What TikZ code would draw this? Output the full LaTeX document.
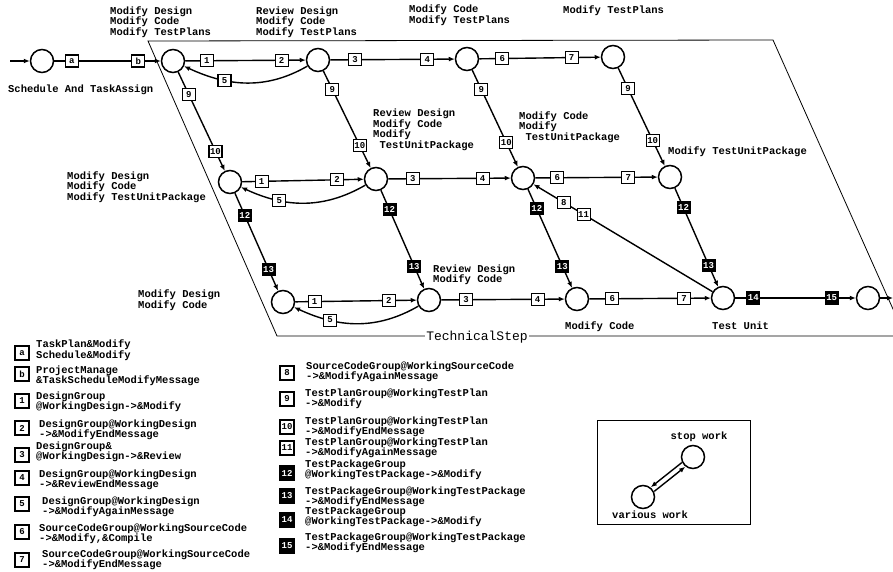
\documentclass[tikz,border=0pt]{standalone}
\usepackage{fontspec}
\newfontfamily\cour{Liberation Mono}
\usetikzlibrary{arrows.meta,calc}
\begin{document}
\begin{tikzpicture}[x=1pt,y=-1pt,
  every node/.style={font=\cour\bfseries\fontsize{10.5}{10.5}\selectfont},
  st/.style={circle,draw,line width=1.5pt,minimum size=23pt,inner sep=0pt},
  lbl/.style={draw,fill=white,line width=1.1pt,minimum width=13pt,minimum height=12pt,inner sep=0.8pt,font=\cour\bfseries\fontsize{9}{9}\selectfont},
  lblk/.style={lbl,fill=black,text=white},
  conn/.style={line width=1.4pt,-{Latex[length=6pt,width=5pt]}},
  txt/.style={anchor=west,inner sep=0pt,align=left},
  leg/.style={lbl,minimum width=14pt,minimum height=14pt,line width=1.4pt},
  legk/.style={leg,fill=black,text=white},
]
\useasboundingbox (0,0) rectangle (893,572);

% frame
\coordinate (P1) at (148,41);
\coordinate (P2) at (773,40);
\coordinate (P3) at (905,336);
\coordinate (P4) at (277,336);
\draw[line width=0.8pt] (P4) -- (P1) -- (P2) -- (P3) -- cycle;
\node[fill=white,inner sep=1.5pt,font=\cour\fontsize{13}{13}\selectfont] (tech) at (477,337) {TechnicalStep};

% states
\coordinate (in0) at (10,61);
\node[st] (S) at (42,61) {};
\node[st] (A1) at (173,61) {};
\node[st] (A2) at (318,60) {};
\node[st] (A3) at (467,59) {};
\node[st] (A4) at (613,57) {};
\node[st] (B1) at (230,182) {};
\node[st] (B2) at (376,179) {};
\node[st] (B3) at (523,178) {};
\node[st] (B4) at (670,177) {};
\node[st] (C1) at (283,302) {};
\node[st] (C2) at (429,300) {};
\node[st] (C3) at (577,299) {};
\node[st] (T) at (723,298) {};
\node[st] (E) at (868,298) {};
\coordinate (out0) at (893,298);

% row 1
\draw[conn] (in0) -- (S);
\draw[conn] (S) -- node[lbl,pos=0.165] (la) {a} node[lbl,pos=0.79] (lb) {b} (A1);
\draw[conn] (A1) -- node[lbl,pos=0.18] (a1) {1} node[lbl,pos=0.80] (a2) {2} (A2);
\draw[conn] (A2) to[out=210,in=335] node[lbl,pos=0.68] (a5) {5} (A1);
\draw[conn] (A2) -- node[lbl,pos=0.2] (a3) {3} node[lbl,pos=0.78] (a4) {4} (A3);
\draw[conn] (A3) -- node[lbl,pos=0.19] (a6) {6} node[lbl,pos=0.76] (a7) {7} (A4);
% row1 -> row2
\draw[conn] (A1) -- node[lbl,pos=0.23] (v19) {9} node[lbl,pos=0.80] (v110) {10} (B1);
\draw[conn] (A2) -- node[lbl,pos=0.19] (v29) {9} node[lbl,pos=0.77] (v210) {10} (B2);
\draw[conn] (A3) -- node[lbl,pos=0.20] (v39) {9} node[lbl,pos=0.75] (v310) {10} (B3);
\draw[conn] (A4) -- node[lbl,pos=0.21] (v49) {9} node[lbl,pos=0.74] (v410) {10} (B4);
% row 2
\draw[conn] (B1) -- node[lbl,pos=0.16] (b1) {1} node[lbl,pos=0.78] (b2) {2} (B2);
\draw[conn] (B2) to[out=210,in=335] node[lbl,pos=0.70] (b5) {5} (B1);
\draw[conn] (B2) -- node[lbl,pos=0.2] (b3) {3} node[lbl,pos=0.77] (b4) {4} (B3);
\draw[conn] (B3) -- node[lbl,pos=0.18] (b6) {6} node[lbl,pos=0.76] (b7) {7} (B4);
% row2 -> row3
\draw[conn] (B1) -- node[lblk,pos=0.23] (w112) {12} node[lblk,pos=0.78] (w113) {13} (C1);
\draw[conn] (B2) -- node[lblk,pos=0.20] (w212) {12} node[lblk,pos=0.77] (w213) {13} (C2);
\draw[conn] (B3) -- node[lblk,pos=0.20] (w312) {12} node[lblk,pos=0.78] (w313) {13} (C3);
\draw[conn] (B4) -- node[lblk,pos=0.20] (w412) {12} node[lblk,pos=0.78] (w413) {13} (T);
\draw[conn] (T) -- node[lbl,pos=0.72] (x11) {11} node[lbl,pos=0.83] (x8) {8} (B3);
% row 3
\draw[conn] (C1) -- node[lbl,pos=0.16] (c1) {1} node[lbl,pos=0.77] (c2) {2} (C2);
\draw[conn] (C2) to[out=210,in=335] node[lbl,pos=0.72] (c5) {5} (C1);
\draw[conn] (C2) -- node[lbl,pos=0.2] (c3) {3} node[lbl,pos=0.78] (c4) {4} (C3);
\draw[conn] (C3) -- node[lbl,pos=0.19] (c6) {6} node[lbl,pos=0.78] (c7) {7} (T);
\draw[conn] (T) -- node[lblk,pos=0.15] (c14) {14} node[lblk,pos=0.80] (c15) {15} (E);
\draw[conn] (E) -- (out0);

% state texts
\node[txt] (t1) at (110,22) {Modify Design\\Modify Code\\Modify TestPlans};
\node[txt] (t2) at (256,22) {Review Design\\Modify Code\\Modify TestPlans};
\node[txt] (t3) at (409,15) {Modify Code\\Modify TestPlans};
\node[txt] (t4) at (563,11) {Modify TestPlans};
\node[txt] (t5) at (8,90) {Schedule And TaskAssign};
\node[txt] (t6) at (373,130) {Review Design\\Modify Code\\Modify\\\hspace*{6.3pt}TestUnitPackage};
\node[txt] (t7) at (519,127) {Modify Code\\Modify\\\hspace*{6.3pt}TestUnitPackage};
\node[txt] (t8) at (668,152) {Modify TestUnitPackage};
\node[txt] (t9) at (67,187) {Modify Design\\Modify Code\\Modify TestUnitPackage};
\node[txt] (t10) at (138,300) {Modify Design\\Modify Code};
\node[txt] (t11) at (433,275) {Review Design\\Modify Code};
\node[txt] (t12) at (565,327) {Modify Code};
\node[txt] (t13) at (712,326) {Test Unit};

% legend left
\node[leg] (ka) at (22,353) {a};
\node[txt] (ta) at (36,350) {TaskPlan\&Modify\\Schedule\&Modify};
\node[leg] (kb) at (22,374) {b};
\node[txt] (tb) at (36,376) {ProjectManage\\\&TaskScheduleModifyMessage};
\node[leg] (k1) at (22,401) {1};
\node[txt] (tk1) at (36,402) {DesignGroup\\@WorkingDesign->\&Modify};
\node[leg] (k2) at (22,428) {2};
\node[txt] (tk2) at (39,430) {DesignGroup@WorkingDesign\\->\&ModifyEndMessage};
\node[leg] (k3) at (22,455) {3};
\node[txt] (tk3) at (36,452) {DesignGroup\&\\@WorkingDesign->\&Review};
\node[leg] (k4) at (22,478) {4};
\node[txt] (tk4) at (39,480) {DesignGroup@WorkingDesign\\->\&ReviewEndMessage};
\node[leg] (k5) at (22,504) {5};
\node[txt] (tk5) at (42,507) {DesignGroup@WorkingDesign\\->\&ModifyAgainMessage};
\node[leg] (k6) at (22,532) {6};
\node[txt] (tk6) at (39,534) {SourceCodeGroup@WorkingSourceCode\\->\&Modify,\&Compile};
\node[leg] (k7) at (22,560) {7};
\node[txt] (tk7) at (42,560) {SourceCodeGroup@WorkingSourceCode\\->\&ModifyEndMessage};

% legend middle
\node[leg] (k8) at (287,373) {8};
\node[txt] (tk8) at (306,372) {SourceCodeGroup@WorkingSourceCode\\->\&ModifyAgainMessage};
\node[leg] (k9) at (287,399) {9};
\node[txt] (tk9) at (305,399) {TestPlanGroup@WorkingTestPlan\\->\&Modify};
\node[leg] (k10) at (287,427) {10};
\node[txt] (tk10) at (305,427) {TestPlanGroup@WorkingTestPlan\\->\&ModifyEndMessage};
\node[leg] (k11) at (287,448) {11};
\node[txt] (tk11) at (305,448) {TestPlanGroup@WorkingTestPlan\\->\&ModifyAgainMessage};
\node[legk] (k12) at (287,473) {12};
\node[txt] (tk12) at (305,470) {TestPackageGroup\\@WorkingTestPackage->\&Modify};
\node[legk] (k13) at (287,496) {13};
\node[txt] (tk13) at (305,497) {TestPackageGroup@WorkingTestPackage\\->\&ModifyEndMessage};
\node[legk] (k14) at (287,520) {14};
\node[txt] (tk14) at (305,517) {TestPackageGroup\\@WorkingTestPackage->\&Modify};
\node[legk] (k15) at (287,546) {15};
\node[txt] (tk15) at (305,543) {TestPackageGroup@WorkingTestPackage\\->\&ModifyEndMessage};

% legend right
\draw[line width=1pt] (597,420) rectangle (750,524);
\node[st] (stop) at (693,457) {};
\node[st] (var) at (643,497) {};
\node (stopt) at (699,437) {stop work};
\node (vart) at (650,515) {various work};
\draw[conn] ([shift={(-1.7,-2.1)}]stop.219) -- ([shift={(-1.7,-2.1)}]var.39);
\draw[conn] ([shift={(1.7,2.1)}]var.39) -- ([shift={(1.7,2.1)}]stop.219);
\end{tikzpicture}
\end{document}
